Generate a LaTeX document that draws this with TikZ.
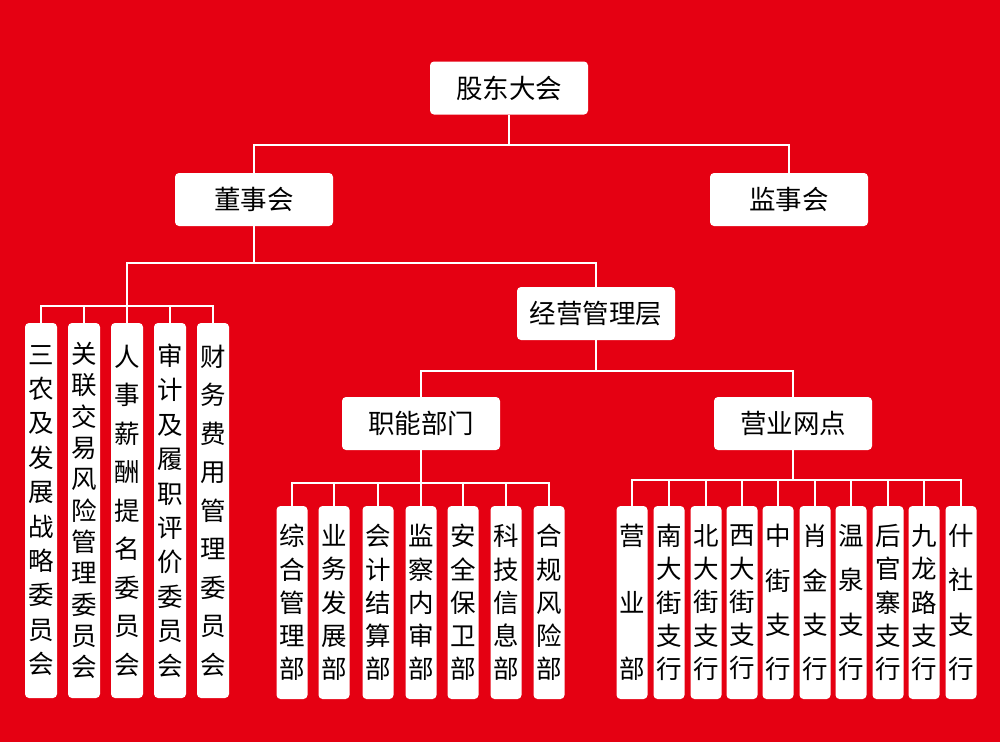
\documentclass[tikz,border=0pt]{standalone}
\usepackage{fontspec}
\newfontfamily\cjk{Noto Sans CJK SC}
\definecolor{bgred}{HTML}{E50012}
\newcommand\vfont[1]{\cjk\fontsize{25.5}{#1}\selectfont}
\tikzset{
  hbox/.style={fill=white, rounded corners=4pt, minimum width=158pt, minimum height=53pt, inner sep=0pt, font=\cjk\fontsize{26.5}{30}\selectfont, text=black},
  vbox/.style={fill=white, rounded corners=4pt, minimum width=31pt, inner sep=0pt, align=center, text=black},
  cbox/.style={vbox, minimum height=375pt},
  dbox/.style={vbox, minimum height=193pt},
  conn/.style={draw=white, line width=1.2pt}
}
\begin{document}
\begin{tikzpicture}[x=1pt,y=-1pt]
\fill[bgred] (0,0) rectangle (1000,742);
\useasboundingbox (0,0) rectangle (1000,742);
% bus coordinates
\coordinate (b1) at (0,145);
\coordinate (b2) at (0,263);
\coordinate (b3) at (0,306);
\coordinate (b4) at (0,371);
\coordinate (b5) at (0,483);
\coordinate (b6) at (0,480);
% main boxes
\node[hbox] (gd) at (509,88) {股东大会};
\node[hbox] (dsh) at (254,199.5) {董事会};
\node[hbox] (jsh) at (789,199.5) {监事会};
\node[hbox] (jy) at (596,313.5) {经营管理层};
\node[hbox] (zn) at (421,423.5) {职能部门};
\node[hbox] (yw) at (793,423.5) {营业网点};
% committees
\node[cbox, minimum width=32pt, font=\vfont{34.4}] (c1) at (41,510.5) {三\\农\\及\\发\\展\\战\\略\\委\\员\\会};
\node[cbox, minimum width=32pt, font=\vfont{31.3}] (c2) at (84,510.5) {关\\联\\交\\易\\风\\险\\管\\理\\委\\员\\会};
\node[cbox, minimum width=32pt, font=\vfont{38.5}] (c3) at (127,510.5) {人\\事\\薪\\酬\\提\\名\\委\\员\\会};
\node[cbox, minimum width=32pt, font=\vfont{34.4}] (c4) at (170,510.5) {审\\计\\及\\履\\职\\评\\价\\委\\员\\会};
\node[cbox, minimum width=32pt, font=\vfont{38.5}] (c5) at (213,510.5) {财\\务\\费\\用\\管\\理\\委\\员\\会};
% departments
\node[dbox, font=\vfont{33.2}] (d1) at (292,602.5) {综\\合\\管\\理\\部};
\node[dbox, font=\vfont{33.2}] (d2) at (334,602.5) {业\\务\\发\\展\\部};
\node[dbox, font=\vfont{33.2}] (d3) at (378,602.5) {会\\计\\结\\算\\部};
\node[dbox, font=\vfont{33.2}] (d4) at (421,602.5) {监\\察\\内\\审\\部};
\node[dbox, font=\vfont{33.2}] (d5) at (463,602.5) {安\\全\\保\\卫\\部};
\node[dbox, font=\vfont{33.2}] (d6) at (506,602.5) {科\\技\\信\\息\\部};
\node[dbox, font=\vfont{33.2}] (d7) at (549,602.5) {合\\规\\风\\险\\部};
% branches
\node[dbox, font=\vfont{66.5}] (r1) at (632,602.5) {营\\业\\部};
\node[dbox, font=\vfont{33.2}] (r2) at (669,602.5) {南\\大\\街\\支\\行};
\node[dbox, font=\vfont{33.2}] (r3) at (706,602.5) {北\\大\\街\\支\\行};
\node[dbox, font=\vfont{33.2}] (r4) at (742,602.5) {西\\大\\街\\支\\行};
\node[dbox, font=\vfont{44.3}] (r5) at (778,602.5) {中\\街\\支\\行};
\node[dbox, font=\vfont{44.3}] (r6) at (815,602.5) {肖\\金\\支\\行};
\node[dbox, font=\vfont{44.3}] (r7) at (851,602.5) {温\\泉\\支\\行};
\node[dbox, font=\vfont{33.2}] (r8) at (888,602.5) {后\\官\\寨\\支\\行};
\node[dbox, font=\vfont{33.2}] (r9) at (924,602.5) {九\\龙\\路\\支\\行};
\node[dbox, font=\vfont{44.3}] (r10) at (961,602.5) {什\\社\\支\\行};
% connectors
\draw[conn] (gd.south) -- (gd.south|-b1);
\draw[conn] (dsh.north) -- (dsh.north|-b1) -| (jsh.north);
\draw[conn] (dsh.south) -- (dsh.south|-b2);
\draw[conn] (c3.north) -- (c3.north|-b2) -| (jy.north);
\draw[conn] (c1.north) -- (c1.north|-b3) -| (c5.north);
\draw[conn] (c2.north) -- (c2.north|-b3);
\draw[conn] (c4.north) -- (c4.north|-b3);
\draw[conn] (jy.south) -- (jy.south|-b4);
\draw[conn] (zn.north) -- (zn.north|-b4) -| (yw.north);
\draw[conn] (zn.south) -- (d4.north);
\draw[conn] (d1.north) -- (d1.north|-b5) -| (d7.north);
\foreach \n in {d2,d3,d5,d6} \draw[conn] (\n.north) -- (\n.north|-b5);
\draw[conn] (yw.south) -- (yw.south|-b6);
\draw[conn] (r1.north) -- (r1.north|-b6) -| (r10.north);
\foreach \n in {r2,r3,r4,r5,r6,r7,r8,r9} \draw[conn] (\n.north) -- (\n.north|-b6);
\end{tikzpicture}
\end{document}
